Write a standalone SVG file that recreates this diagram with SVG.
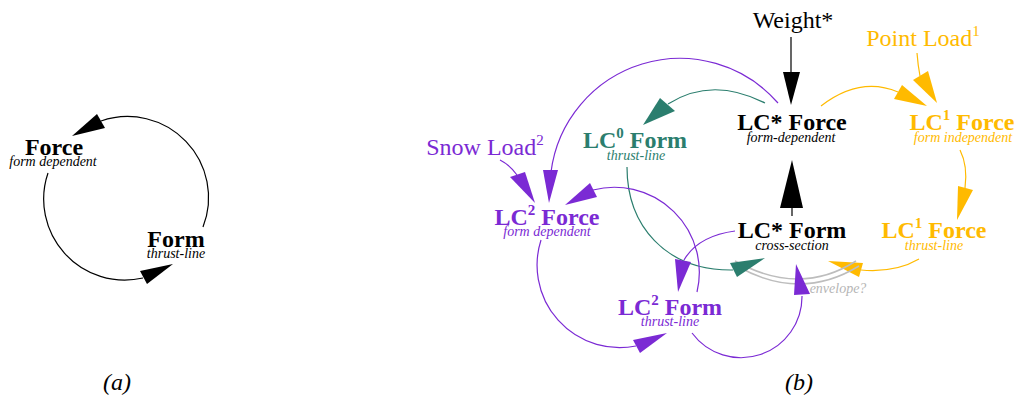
<svg xmlns="http://www.w3.org/2000/svg" width="1019" height="403" viewBox="0 0 1019 403">
<style>
text{font-family:"Liberation Serif","Times New Roman",serif;text-anchor:middle}
.b{font-weight:bold;font-size:24px}
.i{font-style:italic;font-size:14px}
.r{font-size:24px}
.sup{font-size:15px}
.k{fill:#000}.p{fill:#7B2AD4}.t{fill:#2B7E6E}.o{fill:#FFBA00}.g{fill:#B5B5B5}
.ln{fill:none;stroke-width:1.2}
.lk{stroke:#000}.lp{stroke:#7B2AD4}.lt{stroke:#2B7E6E}.lo{stroke:#FFBA00}.lg{stroke:#BDBDBD;stroke-width:1.5}
</style>
<rect width="1019" height="403" fill="#fff"/>
<g id="connectors">
<!-- (a) -->
<path class="ln lk" d="M203,227 A81,81 0 0 0 101,121"/>
<polygon class="k" points="72,136 97,114 105,128"/>
<path class="ln lk" d="M48,173 A81,81 0 0 0 143,278"/>
<polygon class="k" points="173,264 140,271 147,284"/>
<!-- (b) -->
<line class="ln lk" x1="791" y1="37" x2="791" y2="73"/>
<polygon class="k" points="783,72 800,72 791,105"/>
<line class="ln lk" x1="792" y1="207" x2="792" y2="216"/>
<polygon class="k" points="780,208 803,208 792,160"/>
<path class="ln lp" d="M778,103 A130,130 0 0 0 551,172"/>
<polygon class="p" points="543,170 558,170 549,203"/>
<path class="ln lt" d="M765,103 Q712,76 668,104"/>
<polygon class="t" points="643,125 660,98 675,111"/>
<path class="ln lo" d="M821,106 Q860,76 898,92"/>
<polygon class="o" points="894,99 902,85 927,106"/>
<path class="ln lo" d="M917,53 Q918,66 920,76"/>
<polygon class="o" points="913,80 928,71 937,103"/>
<path class="ln lo" d="M960,150 Q968,166 965,188"/>
<polygon class="o" points="958,186 973,190 957,220"/>
<path class="ln lo" d="M919,259 Q895,273 861,270"/>
<polygon class="o" points="828,261 863,263 859,277"/>
<path class="ln lg" d="M735,261 Q800,297 856,261"/>
<path class="ln lg" d="M737,266 Q800,302 859,266"/>
<path class="ln lt" d="M627,167 C627,225 665,271 733,270"/>
<polygon class="t" points="765,258 730,263 737,277"/>
<path class="ln lp" d="M500,160 Q510,165 517,175"/>
<polygon class="p" points="510,177 525,172 535,203"/>
<path class="ln lp" d="M697,292 A85,85 0 0 0 593,190"/>
<polygon class="p" points="565,205 590,183 597,197"/>
<path class="ln lp" d="M541,240 A82.5,82.5 0 0 0 636,346"/>
<polygon class="p" points="667,333 633,340 640,353"/>
<path class="ln lp" d="M735,231 Q698,236 684,260"/>
<polygon class="p" points="675,259 691,262 678,292"/>
<path class="ln lp" d="M692,333 A61,61 0 0 0 802,296"/>
<polygon class="p" points="796,264 794,295 810,294"/>
</g>
<g id="a-force"><text class="b k" x="54" y="155">Force</text><text class="i k" x="53" y="166">form dependent</text></g>
<g id="a-form"><text class="b k" x="176" y="247">Form</text><text class="i k" x="176" y="258">thrust-line</text></g>
<g id="weight"><text class="r k" x="793" y="28">Weight*</text></g>
<g id="lcstar-force"><text class="b k" x="792" y="130">LC* Force</text><text class="i k" x="791" y="142">form-dependent</text></g>
<g id="lcstar-form"><text class="b k" x="792" y="238">LC* Form</text><text class="i k" x="792" y="250">cross-section</text></g>
<g id="pointload"><text class="r o" x="923" y="46">Point Load<tspan class="sup" dy="-10">1</tspan></text></g>
<g id="lc1-force"><text class="b o" x="962" y="130">LC<tspan class="sup" dy="-10">1</tspan><tspan dy="10"> Force</tspan></text><text class="i o" x="963" y="142">form independent</text></g>
<g id="lc1-force2"><text class="b o" x="934" y="238">LC<tspan class="sup" dy="-10">1</tspan><tspan dy="10"> Force</tspan></text><text class="i o" x="934" y="250">thrust-line</text></g>
<g id="lc0-form"><text class="b t" x="635" y="148">LC<tspan class="sup" dy="-10">0</tspan><tspan dy="10"> Form</tspan></text><text class="i t" x="636" y="160">thrust-line</text></g>
<g id="snowload"><text class="r p" x="485" y="155">Snow Load<tspan class="sup" dy="-10">2</tspan></text></g>
<g id="lc2-force"><text class="b p" x="547" y="225">LC<tspan class="sup" dy="-10">2</tspan><tspan dy="10"> Force</tspan></text><text class="i p" x="547" y="236">form dependent</text></g>
<g id="lc2-form"><text class="b p" x="670" y="315">LC<tspan class="sup" dy="-10">2</tspan><tspan dy="10"> Form</tspan></text><text class="i p" x="670" y="326">thrust-line</text></g>
<g id="envelope"><text class="i g" x="838" y="293">envelope?</text></g>
<g id="labels"><text class="r k" x="117" y="390" font-style="italic">(a)</text><text class="r k" x="799" y="390" font-style="italic">(b)</text></g>
</svg>
